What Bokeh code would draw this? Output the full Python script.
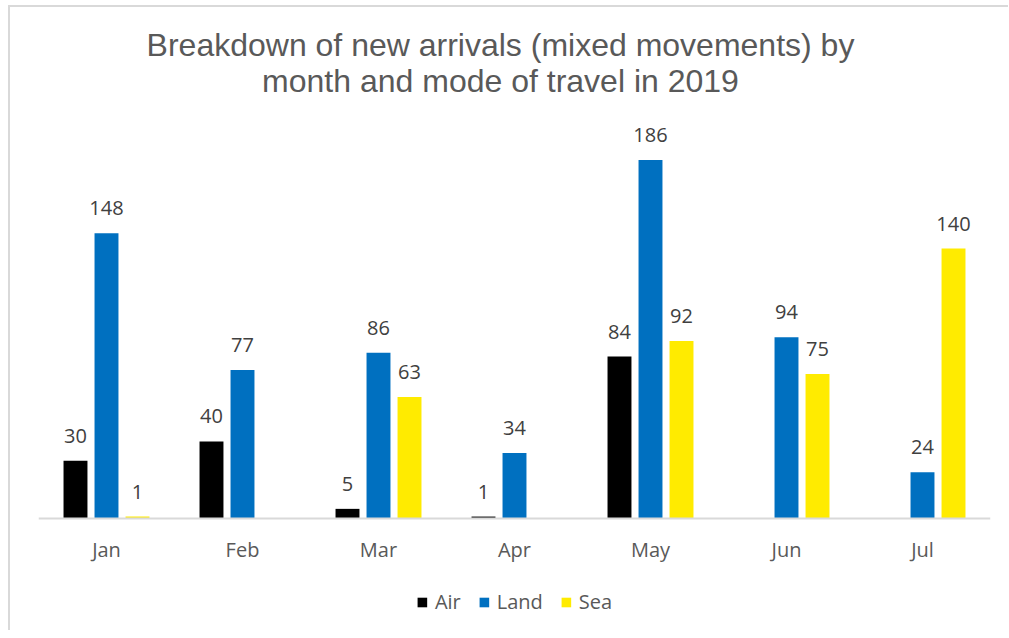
from bokeh.plotting import figure
from bokeh.models import ColumnDataSource, LabelSet, Label, Legend, LegendItem, FactorRange, Range1d
from bokeh.transform import dodge
from bokeh.core.properties import value
from bokeh.embed import file_html
from bokeh.resources import INLINE

months = ["Jan", "Feb", "Mar", "Apr", "May", "Jun", "Jul"]
air = [30, 40, 5, 1, 84, 0, 0]
land = [148, 77, 86, 34, 186, 94, 24]
sea = [1, 0, 63, 0, 92, 75, 140]
series_names = ["Air", "Land", "Sea"]
series_colors = ["#000000", "#0070C0", "#FFEB00"]
title_lines = ["Breakdown of new arrivals (mixed movements) by", "month and mode of travel in 2019"]

LABEL_FONT = "Open Sans"
PX = 1.928  # pixels per unit

p = figure(x_range=FactorRange(*months, range_padding=0),
           y_range=Range1d(-112 / PX, 510 / PX),
           frame_width=952, frame_height=622, output_backend="svg", toolbar_location=None,
           min_border_left=28, min_border_right=18, min_border_top=1, min_border_bottom=0,
           title=None)
p.styles = {"border-left": "2px solid #d9d9d9", "border-top": "2px solid #d9d9d9",
            "margin-left": "8px", "margin-top": "5px"}
p.outline_line_color = None
p.xgrid.visible = False
p.ygrid.visible = False
p.yaxis.visible = False
p.xaxis.fixed_location = 0
p.xaxis.axis_line_color = "#d9d9d9"
p.xaxis.axis_line_width = 2
p.xaxis.major_tick_line_color = None
p.xaxis.minor_tick_line_color = None
p.xaxis.major_label_text_font = LABEL_FONT
p.xaxis.major_label_text_font_size = "20px"
p.xaxis.major_label_text_color = "#595959"
p.xaxis.major_label_standoff = 11

offsets = [-0.228, 0.0, 0.228]
vals = [air, land, sea]
items = []
for name, color, off, v in zip(series_names, series_colors, offsets, vals):
    src = ColumnDataSource(dict(month=months, val=v, lab=[str(x) if x else "" for x in v]))
    r = p.vbar(x=dodge("month", off, range=p.x_range), top="val", width=0.176,
               source=src, fill_color=color, line_color=None)
    items.append(LegendItem(label=name, renderers=[r]))
    ls = LabelSet(x=dodge("month", off, range=p.x_range), y="val", text="lab", source=src,
                  text_align="center", text_baseline="alphabetic", y_offset=18,
                  text_font=value(LABEL_FONT), text_font_size="20px", text_color="#404040")
    p.add_layout(ls)

for txt, yy in zip(title_lines, [245.6, 226.9]):
    p.add_layout(Label(x=3.397, y=yy, text=txt, text_align="center", text_baseline="alphabetic",
                       text_font="Liberation Sans", text_font_size="32px", text_color="#595959"))

legend = Legend(items=items, orientation="horizontal", location="bottom_center",
                border_line_color=None, background_fill_alpha=0,
                label_text_font=LABEL_FONT, label_text_font_size="20px",
                label_text_color="#595959", glyph_width=12, glyph_height=12,
                label_standoff=7, spacing=17, padding=0, margin=15)
p.add_layout(legend)

open("out.html", "w").write(file_html(p, INLINE))
